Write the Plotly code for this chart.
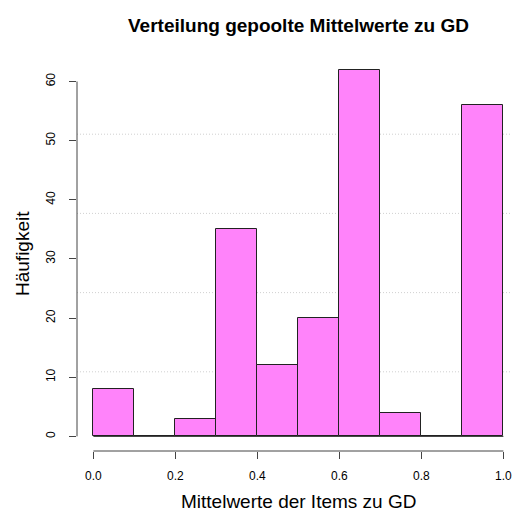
import plotly.graph_objects as go

# Data (R-style histogram, breaks of width 0.1)
bin_starts = [0.0, 0.1, 0.2, 0.3, 0.4, 0.5, 0.6, 0.7, 0.8, 0.9]
counts = [8, 0, 3, 35, 12, 20, 62, 4, 0, 56]
bin_width = 0.1
x_ticks = [0.0, 0.2, 0.4, 0.6, 0.8, 1.0]
x_tick_labels = ["0.0", "0.2", "0.4", "0.6", "0.8", "1.0"]
y_ticks = [0, 10, 20, 30, 40, 50, 60]
grid_y = [10.91, 24.30, 37.70, 51.09]

title = "Verteilung gepoolte Mittelwerte zu GD"
x_title = "Mittelwerte der Items zu GD"
y_title = "Häufigkeit"

FONT = "Liberation Sans, Arial, Helvetica, sans-serif"
W, H = 512, 513
ML, MR, MT, MB = 77, 0, 55, 62
plot_w = W - ML - MR
plot_h = H - MT - MB

x_lo = -0.04
x_hi = x_lo + plot_w / 410.0
y_lo, y_hi = -2.48, 64.48

AXC = "#444444"

fig = go.Figure()
fig.add_trace(go.Bar(
    x=[s + bin_width / 2 for s in bin_starts],
    y=counts,
    width=bin_width,
    marker=dict(color="#FF83FA", line=dict(color="#222222", width=1)),
    hoverinfo="x+y",
))

shapes = []
for gy in grid_y:
    shapes.append(dict(type="line", xref="paper", yref="y", x0=0, x1=1, y0=gy, y1=gy,
                       line=dict(color="#D0D0D0", width=1, dash="1px,2px"), layer="below"))
# baseline of histogram (zero-height bins)
shapes.append(dict(type="line", xref="x", yref="y", x0=bin_starts[0], x1=bin_starts[-1] + bin_width,
                   y0=0, y1=0, line=dict(color="#222222", width=1)))
# R-style axis lines spanning tick range
shapes.append(dict(type="line", xref="x", yref="paper", x0=x_ticks[0], x1=x_ticks[-1], y0=0, y1=0,
                   line=dict(color=AXC, width=1)))
shapes.append(dict(type="line", xref="paper", yref="y", x0=0, x1=0, y0=y_ticks[0], y1=y_ticks[-1],
                   line=dict(color=AXC, width=1)))

annotations = [
    dict(text="<b>" + title + "</b>", xref="x", yref="paper", x=0.5, y=1 + (MT - 25) / plot_h,
         showarrow=False, xanchor="center", yanchor="middle", font=dict(size=19, color="black", family=FONT)),
    dict(text=x_title, xref="x", yref="paper", x=0.5, y=-(501 - (MT + plot_h)) / plot_h,
         showarrow=False, xanchor="center", yanchor="middle", font=dict(size=19, color="black", family=FONT)),
    dict(text=y_title, xref="paper", yref="paper", x=-(ML - 22) / plot_w, y=0.5, textangle=-90,
         showarrow=False, xanchor="center", yanchor="middle", font=dict(size=19, color="black", family=FONT)),
]

fig.update_layout(
    width=W, height=H,
    margin=dict(l=ML, r=MR, t=MT, b=MB, pad=0),
    paper_bgcolor="white", plot_bgcolor="white",
    showlegend=False,
    bargap=0,
    shapes=shapes,
    annotations=annotations,
    font=dict(family=FONT, color="black"),
    xaxis=dict(range=[x_lo, x_hi], tickvals=x_ticks, ticktext=x_tick_labels,
               ticks="outside", ticklen=7, tickcolor=AXC, tickwidth=1,
               showline=False, showgrid=False, zeroline=False, ticklabeloverflow="allow",
               tickfont=dict(size=12, family=FONT, color="black"), ticklabelstandoff=7),
    yaxis=dict(range=[y_lo, y_hi], tickvals=y_ticks,
               ticks="outside", ticklen=7, tickcolor=AXC, tickwidth=1, tickangle=-90,
               showline=False, showgrid=False, zeroline=False, ticklabeloverflow="allow",
               tickfont=dict(size=12, family=FONT, color="black"), ticklabelstandoff=9),
)

fig.write_html("out.html", config={"displayModeBar": False})

# remove default browser body margin so the figure sits at the page origin
with open("out.html", "r", encoding="utf-8") as f:
    html = f.read()
html = html.replace("<head>", "<head><style>html,body{margin:0;padding:0;overflow:hidden;}</style>", 1)
with open("out.html", "w", encoding="utf-8") as f:
    f.write(html)
